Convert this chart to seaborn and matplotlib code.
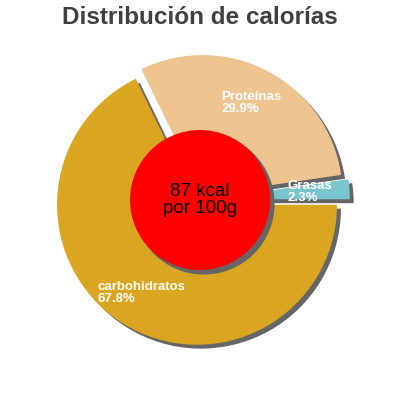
import matplotlib
matplotlib.use("Agg")
import numpy as np
import matplotlib.pyplot as plt
import seaborn as sns
from matplotlib.patches import Circle, Shadow

sns.set_theme(style="white")
plt.rcParams['font.family'] = ['Liberation Sans', 'DejaVu Sans']

categories = ["carbohidratos", "Proteínas", "Grasas"]
values = [67.8, 29.9, 2.3]
colors = ["#DAA520", "#EEC591", "#7AC5CD"]
explode = [0.04, 0.04, 0.07]
center_text = "87 kcal\npor 100g"
title = "Distribución de calorías"

fig = plt.figure(figsize=(4, 4), dpi=100)
ax = fig.add_axes([0, 0, 1, 1])

labels = [f"{c}\n{v:.1f}%" for c, v in zip(categories, values)]
wedges, texts = ax.pie(
    values, labels=labels, colors=colors, explode=explode,
    startangle=0, counterclock=False, labeldistance=0.78,
    shadow={'ox': 0.02, 'oy': -0.02, 'facecolor': '#666666',
            'edgecolor': '#666666', 'alpha': 1.0},
    wedgeprops={'linewidth': 0},
    textprops={'color': 'white', 'fontsize': 9.5, 'fontweight': 'bold'},
)
for w, t in zip(wedges, texts):
    mid = np.deg2rad((w.theta1 + w.theta2) / 2)
    t.set_position((0.785 * np.cos(mid), 0.785 * np.sin(mid)))
    t.set_ha('center')
    t.set_va('center')
    t.set_multialignment('left')
    t.set_linespacing(0.95)
    t.set_zorder(10)

circ = Circle((0, 0), 0.5, facecolor='#FF0000', edgecolor='none', zorder=5)
ax.add_patch(circ)
sh = Shadow(circ, 0.02, -0.02, facecolor='#666666', edgecolor='#666666', alpha=1.0)
sh.set_zorder(4)
ax.add_patch(sh)
ax.text(0, 0, center_text, ha='center', va='center', fontsize=13.5,
        color='black', zorder=11, linespacing=1.0)

lim = 200 / 140
ax.set_xlim(-lim, lim)
ax.set_ylim(-lim, lim)
ax.set_aspect('equal')
ax.axis('off')

fig.text(0.5, 0.955, title, ha='center', va='center', fontsize=17.5,
         fontweight='bold', color='#404040')

fig.savefig("out.png", dpi=100)
